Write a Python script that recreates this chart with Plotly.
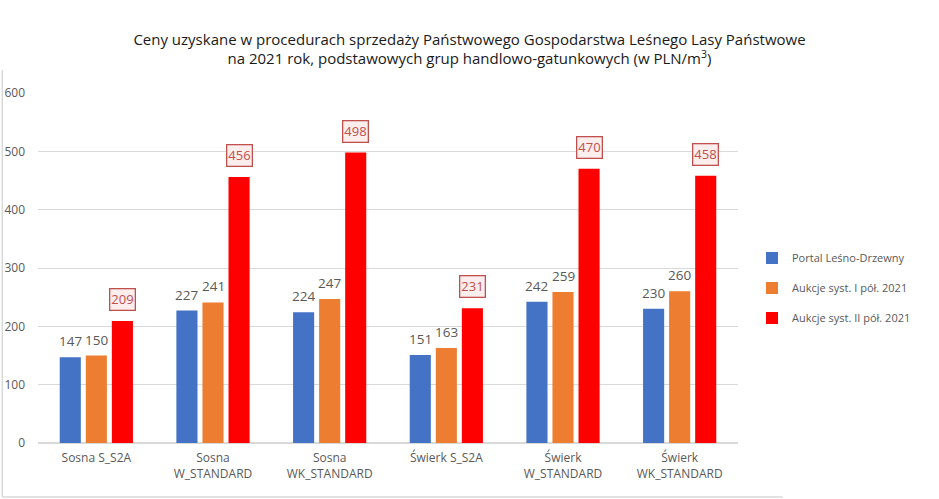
import plotly.graph_objects as go

categories = ["Sosna S_S2A", "Sosna<br>W_STANDARD", "Sosna<br>WK_STANDARD",
              "Świerk S_S2A", "Świerk<br>W_STANDARD", "Świerk<br>WK_STANDARD"]
portal = [147, 227, 224, 151, 242, 230]
aukcje_1 = [150, 241, 247, 163, 259, 260]
aukcje_2 = [209, 456, 498, 231, 470, 458]
series_names = ["Portal Leśno-Drzewny", "Aukcje syst. I pół. 2021", "Aukcje syst. II pół. 2021"]
colors = ["#4472c4", "#ed7d31", "#ff0000"]
y_ticks = [0, 100, 200, 300, 400, 500, 600]

FONT = "Open Sans"
GRAY = "#595959"

bargap = 0.33
slot = (1 - bargap) / 3

fig = go.Figure()
all_series = [portal, aukcje_1, aukcje_2]
for i, (name, vals, col) in enumerate(zip(series_names, all_series, colors)):
    fig.add_trace(go.Bar(
        x=categories, y=vals, name=name, marker_color=col,
        marker_line_width=0, legendgroup=str(i),
    ))

# plain value labels for first two series
for i in range(2):
    for j, v in enumerate(all_series[i]):
        fig.add_annotation(
            x=j + (i - 1) * slot, y=v, xref="x", yref="y", text=str(v), showarrow=False,
            yanchor="bottom", yshift=5,
            font=dict(family=FONT, size=13.5, color=GRAY),
        )

# boxed labels for the third series
for j, v in enumerate(aukcje_2):
    fig.add_annotation(
        x=j + slot, y=v, xref="x", yref="y", text=str(v), showarrow=False,
        yanchor="bottom", yshift=10,
        font=dict(family=FONT, size=13, color="#c0504d"),
        bgcolor="#fdeeee", bordercolor="#c0504d", borderwidth=1.3, borderpad=1,
    )

# chart frame lines (left and bottom)
fig.add_shape(type="line", xref="paper", yref="paper", x0=-0.051, x1=-0.051, y0=-0.154, y1=1.066,
              line=dict(color="#d9d9d9", width=1.5))
fig.add_shape(type="line", xref="paper", yref="paper", x0=-0.051, x1=1.064, y0=-0.154, y1=-0.154,
              line=dict(color="#d9d9d9", width=1.5))

fig.update_layout(
    width=939, height=499,
    margin=dict(l=38, r=201, t=93, b=56),
    paper_bgcolor="white", plot_bgcolor="white",
    barmode="group", bargap=bargap, bargroupgap=0.19,
    title=dict(
        text="Ceny uzyskane w procedurach sprzedaży Państwowego Gospodarstwa Leśnego Lasy Państwowe<br>na 2021 rok, podstawowych grup handlowo-gatunkowych (w PLN/m<sup>3</sup>)",
        x=0.5, xanchor="center", y=0.91, yanchor="top",
        font=dict(family=FONT, size=15, color="#1a1a1a"),
    ),
    font=dict(family=FONT, color=GRAY),
    legend=dict(
        x=1.02, y=0.57, xanchor="left", yanchor="top",
        font=dict(family=FONT, size=11, color=GRAY),
        tracegroupgap=11, itemwidth=30,
    ),
    showlegend=True,
)
fig.update_yaxes(range=[0, 600], tickvals=y_ticks, showgrid=True, gridcolor="#d9d9d9",
                 gridwidth=1, zeroline=True, zerolinecolor="#d9d9d9", showline=False,
                 tickfont=dict(family=FONT, size=12, color=GRAY), ticklabelstandoff=12,
                 automargin=False)
fig.update_xaxes(showline=False, tickfont=dict(family=FONT, size=12, color=GRAY),
                 ticklabelstandoff=6, automargin=False)

fig.write_html("out.html")
